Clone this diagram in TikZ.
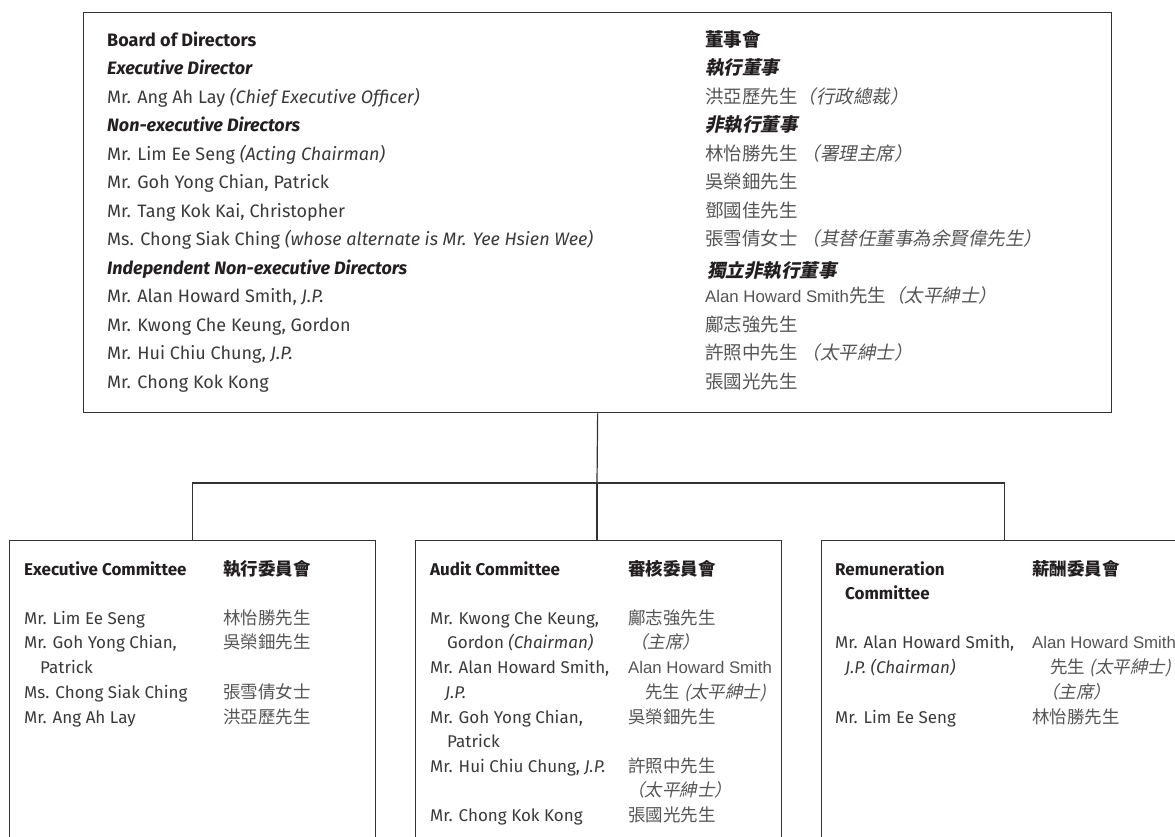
\documentclass[tikz,border=0pt]{standalone}
\usepackage{fontspec}
\setmainfont{Fira Sans}
\newfontfamily\zh{Noto Sans CJK TC}
\newfontfamily\zhit{Noto Sans CJK TC}[FakeSlant=0.2]
\newfontfamily\zl{Liberation Sans}
\definecolor{headc}{HTML}{231F20}
\definecolor{bodyc}{HTML}{3A3A3A}
\definecolor{zhc}{HTML}{555555}
\definecolor{linec}{HTML}{333333}
\newcommand\fsz{\fontsize{18}{21}\selectfont}
\newcommand\bsz{\fontsize{17}{20}\selectfont}
\newcommand\zsz{\fontsize{18.5}{21}\selectfont}
\newcommand\zbsz{\fontsize{17.5}{20}\selectfont}
\newcommand\zi[1]{{\zhit #1}}
\newcommand\ahs{{\zl\fontsize{16.8}{20}\selectfont Alan Howard Smith}}
\tikzset{
  box/.style={draw=linec, line width=1.3pt, rectangle, inner sep=0pt, anchor=north west},
  en/.style={anchor=base west, inner sep=0pt, font=\fsz, text=bodyc},
  enh/.style={anchor=base west, inner sep=0pt, font=\fsz\bfseries, text=headc},
  enb/.style={anchor=base west, inner sep=0pt, font=\bsz, text=bodyc},
  enbh/.style={anchor=base west, inner sep=0pt, font=\bsz\bfseries, text=headc},
  zhn/.style={anchor=base west, inner sep=0pt, font=\zsz\zh, text=zhc},
  zhh/.style={anchor=base west, inner sep=0pt, font=\zsz\zh\bfseries, text=headc},
  zhhi/.style={anchor=base west, inner sep=0pt, font=\zsz\zhit\bfseries, text=headc},
  zbn/.style={anchor=base west, inner sep=0pt, font=\zbsz\zh, text=zhc},
  zbh/.style={anchor=base west, inner sep=0pt, font=\zbsz\zh\bfseries, text=headc},
  conn/.style={draw=linec, line width=1.2pt}
}
\begin{document}
\begin{tikzpicture}[x=1pt,y=-1pt]
\useasboundingbox (0,0) rectangle (1175,836);
\fill[white] (0,0) rectangle (1175,836);
\clip (0,0) rectangle (1175,836);
% boxes
\node[box, minimum width=1028pt, minimum height=400pt] (board) at (83,12) {};
\node[box, minimum width=366pt, minimum height=330pt] (exec) at (9,540) {};
\node[box, minimum width=366pt, minimum height=330pt] (audit) at (415,540) {};
\node[box, minimum width=366pt, minimum height=330pt] (rem) at (821,540) {};
% connectors
\coordinate (j) at (597,483);
\draw[conn] (board.south) -- (j);
\draw[conn] (exec.north) |- (j) -| (rem.north);
\draw[conn] (j) -- (j |- audit.north);
% board, English
\node[enh] (e0) at (107,46) {Board of Directors};
\node[enh] (e1) at (107,74.5) {\itshape Executive Director};
\node[en] (e2) at (107,103) {Mr. Ang Ah Lay \textit{(Chief Executive Officer)}};
\node[enh] (e3) at (107,131.5) {\itshape Non-executive Directors};
\node[en] (e4) at (107,160) {Mr. Lim Ee Seng \textit{(Acting Chairman)}};
\node[en] (e5) at (107,188.5) {Mr. Goh Yong Chian, Patrick};
\node[en] (e6) at (107,217) {Mr. Tang Kok Kai, Christopher};
\node[en] (e7) at (107,245.5) {Ms. Chong Siak Ching \textit{(whose alternate is Mr. Yee Hsien Wee)}};
\node[enh] (e8) at (107,274) {\itshape Independent Non-executive Directors};
\node[en] (e9) at (107,302.5) {Mr. Alan Howard Smith, \textit{J.P.}};
\node[en] (e10) at (107,331) {Mr. Kwong Che Keung, Gordon};
\node[en] (e11) at (107,359.5) {Mr. Hui Chiu Chung, \textit{J.P.}};
\node[en] (e12) at (107,388) {Mr. Chong Kok Kong};
% board, Chinese
\node[zhh] (c0) at (705,46) {董事會};
\node[zhhi] (c1) at (705,74.5) {執行董事};
\node[zhn] (c2) at (705,103) {洪亞歷先生\zi{（行政總裁）}};
\node[zhhi] (c3) at (705,131.5) {非執行董事};
\node[zhn] (c4) at (705,160) {林怡勝先生 \zi{（署理主席）}};
\node[zhn] (c5) at (705,188.5) {吳榮鈿先生};
\node[zhn] (c6) at (705,217) {鄧國佳先生};
\node[zhn] (c7) at (705,245.5) {張雪倩女士 \zi{（其替任董事為余賢偉先生）}};
\node[zhhi] (c8) at (707,277) {獨立非執行董事};
\node[zhn] (c9) at (705,302.5) {\ahs 先生\zi{（太平紳士）}};
\node[zhn] (c10) at (705,331) {鄺志強先生};
\node[zhn] (c11) at (705,359.5) {許照中先生 \zi{（太平紳士）}};
\node[zhn] (c12) at (705,388) {張國光先生};
% executive committee
\node[enbh] (x0) at (24,575) {Executive Committee};
\node[zbh] (xz0) at (223,575) {執行委員會};
\node[enb] (x1) at (24,624) {Mr. Lim Ee Seng};
\node[zbn] (xz1) at (223,624) {林怡勝先生};
\node[enb] (x2) at (24,648) {Mr. Goh Yong Chian,};
\node[zbn] (xz2) at (223,648) {吳榮鈿先生};
\node[enb] (x3) at (40,673) {Patrick};
\node[enb] (x4) at (24,698) {Ms. Chong Siak Ching};
\node[zbn] (xz4) at (223,698) {張雪倩女士};
\node[enb] (x5) at (24,723) {Mr. Ang Ah Lay};
\node[zbn] (xz5) at (223,723) {洪亞歷先生};
% audit committee
\node[enbh] (a0) at (430,575) {Audit Committee};
\node[zbh] (az0) at (628,575) {審核委員會};
\node[enb] (a1) at (430,624) {Mr. Kwong Che Keung,};
\node[zbn] (az1) at (628,624) {鄺志強先生};
\node[enb] (a2) at (447,648) {Gordon \textit{(Chairman)}};
\node[zbn] (az2) at (630,648) {\zi{（主席）}};
\node[enb] (a3) at (430,673) {Mr. Alan Howard Smith,};
\node[zbn] (az3) at (628,673) {\ahs};
\node[enb] (a4) at (445,698) {\textit{J.P.}};
\node[zbn] (az4) at (645,698) {先生 \zi{(太平紳士)}};
\node[enb] (a5) at (430,723) {Mr. Goh Yong Chian,};
\node[zbn] (az5) at (628,723) {吳榮鈿先生};
\node[enb] (a6) at (447,747) {Patrick};
\node[enb] (a7) at (430,772) {Mr. Hui Chiu Chung, \textit{J.P.}};
\node[zbn] (az7) at (628,772) {許照中先生};
\node[zbn] (az8) at (627,796) {\zi{（太平紳士）}};
\node[enb] (a9) at (430,821) {Mr. Chong Kok Kong};
\node[zbn] (az9) at (628,821) {張國光先生};
% remuneration committee
\node[enbh] (r0) at (835,575) {Remuneration};
\node[enbh] (r1) at (845,599) {Committee};
\node[zbh] (rz0) at (1032,575) {薪酬委員會};
\node[enb] (r2) at (835,648) {Mr. Alan Howard Smith,};
\node[zbn] (rz2) at (1032,648) {\ahs};
\node[enb] (r3) at (845,673) {\textit{J.P. (Chairman)}};
\node[zbn] (rz3) at (1050,673) {先生 \zi{(太平紳士)}};
\node[zbn] (rz4) at (1041,698) {\zi{（主席）}};
\node[enb] (r5) at (835,723) {Mr. Lim Ee Seng};
\node[zbn] (rz5) at (1032,723) {林怡勝先生};
\end{tikzpicture}
\end{document}
